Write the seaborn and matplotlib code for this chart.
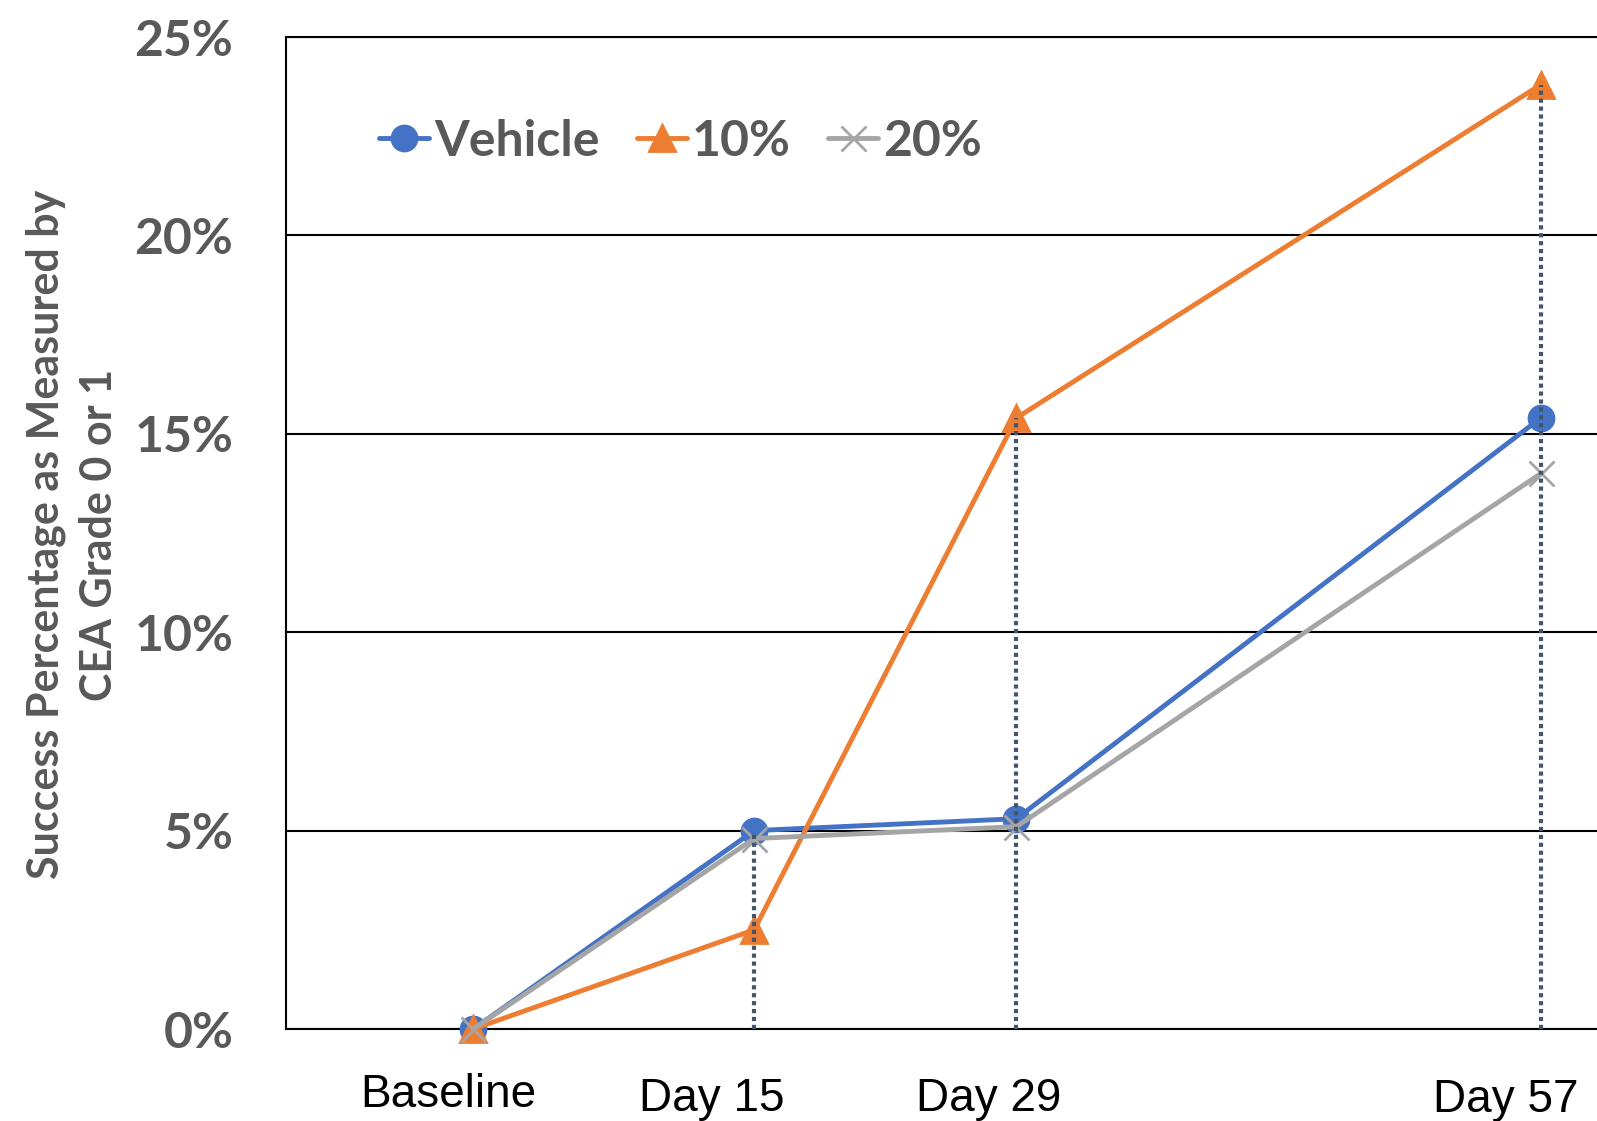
import numpy as np
import pandas as pd
import matplotlib
matplotlib.use("Agg")
import matplotlib.pyplot as plt
from matplotlib.transforms import ScaledTranslation
import seaborn as sns

# data (percent)
days = [0, 15, 29, 57]
day_labels = ["Baseline", "Day 15", "Day 29", "Day 57"]
vehicle = [0.0, 5.0, 5.3, 15.4]
ten_pct = [0.0, 2.5, 15.4, 23.8]
twenty_pct = [0.0, 4.8, 5.1, 14.0]
series_names = ["Vehicle", "10%", "20%"]
y_ticks = [0, 5, 10, 15, 20, 25]

# style
sns.set_theme(style="white")
plt.rcParams["font.family"] = ["Lato", "DejaVu Sans"]
GRAY_TXT = "#595959"
colors = {"Vehicle": "#4472C4", "10%": "#ED7D31", "20%": "#A5A5A5"}
markers = {"Vehicle": "o", "10%": "^", "20%": "x"}
msizes = {"Vehicle": 18, "10%": 19, "20%": 18}

df = pd.DataFrame({
    "day": days * 3,
    "value": vehicle + ten_pct + twenty_pct,
    "series": np.repeat(series_names, len(days)),
})

fig = plt.figure(figsize=(15.97, 11.21), dpi=100)
fig.set_facecolor("white")
ax = fig.add_axes([286 / 1597, 92 / 1121, 1 - 286 / 1597, 992 / 1121])
ax.set_facecolor("white")

for name in series_names:
    sub = df[df["series"] == name]
    sns.lineplot(data=sub, x="day", y="value", ax=ax, color=colors[name],
                 marker=markers[name], markersize=msizes[name],
                 markeredgecolor=colors[name], markeredgewidth=2,
                 linewidth=3.5, label=name, clip_on=False, zorder=3)

# drop lines from the highest value at each visit down to the axis
tops = df.groupby("day")["value"].max()
tops = tops[tops > 0]
ax.vlines(tops.index, 0, tops.values, colors="#44546A", linewidth=3,
          linestyles=(0, (1, 0.9)), zorder=4, clip_on=False)

ax.set_xlim(-10, 60)
ax.set_ylim(0, 25)
ax.set_yticks(y_ticks)
ax.set_yticklabels([f"{v}%" for v in y_ticks], fontsize=36,
                   fontweight="bold", color=GRAY_TXT)
ax.tick_params(axis="y", length=0, pad=38)
ax.tick_params(axis="x", length=0, pad=32)
ax.yaxis.grid(True, color="black", linewidth=1.5)
ax.xaxis.grid(False)
ax.set_axisbelow(True)

for side in ["left", "top", "bottom"]:
    ax.spines[side].set_color("black")
    ax.spines[side].set_linewidth(1.5)
ax.spines["right"].set_visible(False)

ax.set_xticks(days)
ax.set_xticklabels(day_labels, fontsize=33, color="black",
                   family=["Liberation Sans", "DejaVu Sans"])
shifts = [(-25, 0), (-42, -4), (-28, -4), (-35, -5)]
for lbl, (dx, dy) in zip(ax.get_xticklabels(), shifts):
    lbl.set_transform(lbl.get_transform()
                      + ScaledTranslation(dx / 100, dy / 100, fig.dpi_scale_trans))

ax.set_xlabel("")
ax.set_ylabel("")
fig.text(0.045, 0.523, "Success Percentage as Measured by\nCEA Grade 0 or 1",
         rotation=90, ha="center", va="center", fontsize=31,
         fontweight="bold", color=GRAY_TXT, linespacing=1.4)

handles, labels = ax.get_legend_handles_labels()
leg = ax.legend(handles, labels, loc="center left", bbox_to_anchor=(0.071, 0.895),
                ncol=3, frameon=False, borderpad=0, borderaxespad=0,
                handlelength=1.0, handletextpad=0.1, columnspacing=0.75,
                prop={"size": 36, "weight": "bold"})
for t in leg.get_texts():
    t.set_color(GRAY_TXT)

fig.savefig("out.png", dpi=100, facecolor="white")
